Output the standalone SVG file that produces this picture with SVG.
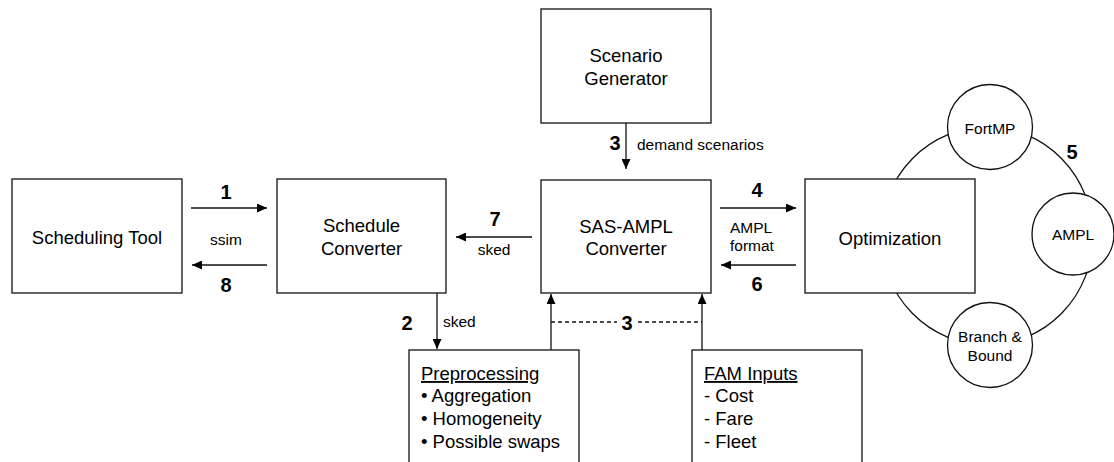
<svg xmlns="http://www.w3.org/2000/svg" width="1114" height="462" viewBox="0 0 1114 462">
<style>
text{font-family:"Liberation Sans",Arial,sans-serif;fill:#000}
.box{fill:#fff;stroke:#111;stroke-width:1.3}
.big{font-size:18.5px}
.sm{font-size:15.5px}
.num{font-size:20px;font-weight:bold}
.ln{stroke:#111;stroke-width:1.3;fill:none}
</style>
<defs>
<marker id="ah" markerUnits="userSpaceOnUse" markerWidth="11" markerHeight="9" refX="10" refY="4.5" orient="auto">
<path d="M0,0 L10,4.5 L0,9 Z" fill="#000"/>
</marker>
</defs>
<g id="solver-ring">
<ellipse cx="987" cy="236" rx="106" ry="109" class="ln"/>
</g>
<g id="scheduling-tool">
<rect x="12" y="179" width="170" height="114" class="box"/>
<text x="97" y="244" class="big" text-anchor="middle">Scheduling Tool</text>
</g>
<g id="schedule-converter">
<rect x="277" y="179" width="169" height="114" class="box"/>
<text x="361.5" y="232" class="big" text-anchor="middle">Schedule</text>
<text x="361.5" y="255" class="big" text-anchor="middle">Converter</text>
</g>
<g id="scenario-generator">
<rect x="541" y="9" width="170" height="114" class="box"/>
<text x="626" y="62" class="big" text-anchor="middle">Scenario</text>
<text x="626" y="85" class="big" text-anchor="middle">Generator</text>
</g>
<g id="sas-ampl-converter">
<rect x="541" y="180" width="170" height="113" class="box"/>
<text x="626" y="233" class="big" text-anchor="middle">SAS-AMPL</text>
<text x="626" y="255" class="big" text-anchor="middle">Converter</text>
</g>
<g id="optimization">
<rect x="805" y="179" width="170" height="114" class="box"/>
<text x="890" y="245" class="big" text-anchor="middle">Optimization</text>
</g>
<g id="fortmp">
<circle cx="990" cy="127" r="42.5" class="box"/>
<text x="990" y="134" class="sm" text-anchor="middle">FortMP</text>
</g>
<g id="ampl">
<circle cx="1073" cy="234" r="41" class="box"/>
<text x="1073" y="240" class="sm" text-anchor="middle">AMPL</text>
</g>
<g id="branch-bound">
<circle cx="990" cy="345" r="42.5" class="box"/>
<text x="990" y="342" class="sm" text-anchor="middle">Branch &amp;</text>
<text x="990" y="361" class="sm" text-anchor="middle">Bound</text>
</g>
<g id="preprocessing">
<rect x="409" y="350" width="170" height="130" class="box"/>
<text x="421" y="380" class="big" text-decoration="underline">Preprocessing</text>
<text x="421" y="402" class="big">• Aggregation</text>
<text x="421" y="425" class="big">• Homogeneity</text>
<text x="421" y="448" class="big">• Possible swaps</text>
</g>
<g id="fam-inputs">
<rect x="692" y="350" width="170" height="130" class="box"/>
<text x="704" y="380" class="big" text-decoration="underline">FAM Inputs</text>
<text x="704" y="402" class="big">- Cost</text>
<text x="704" y="425" class="big">- Fare</text>
<text x="704" y="448" class="big">- Fleet</text>
</g>
<g id="connectors">
<line x1="191" y1="208" x2="267" y2="208" class="ln" marker-end="url(#ah)"/>
<line x1="267" y1="265" x2="192" y2="265" class="ln" marker-end="url(#ah)"/>
<line x1="532" y1="237" x2="456" y2="237" class="ln" marker-end="url(#ah)"/>
<line x1="720" y1="208" x2="796" y2="208" class="ln" marker-end="url(#ah)"/>
<line x1="796" y1="265" x2="721" y2="265" class="ln" marker-end="url(#ah)"/>
<line x1="626" y1="123" x2="626" y2="169" class="ln" marker-end="url(#ah)"/>
<line x1="437" y1="293" x2="437" y2="349" class="ln" marker-end="url(#ah)"/>
<line x1="551" y1="350" x2="551" y2="294" class="ln" marker-end="url(#ah)"/>
<line x1="702" y1="350" x2="702" y2="294" class="ln" marker-end="url(#ah)"/>
<line x1="551" y1="322" x2="617" y2="322" class="ln" stroke-dasharray="4,3" stroke-width="1"/>
<line x1="638" y1="322" x2="702" y2="322" class="ln" stroke-dasharray="4,3" stroke-width="1"/>
<text x="226" y="199" class="num" text-anchor="middle">1</text>
<text x="226" y="245" class="sm" text-anchor="middle">ssim</text>
<text x="226" y="292" class="num" text-anchor="middle">8</text>
<text x="495" y="226" class="num" text-anchor="middle">7</text>
<text x="494" y="255" class="sm" text-anchor="middle">sked</text>
<text x="615" y="150" class="num" text-anchor="middle">3</text>
<text x="637" y="150" class="sm">demand scenarios</text>
<text x="757" y="197" class="num" text-anchor="middle">4</text>
<text x="730" y="233" class="sm">AMPL</text>
<text x="730" y="251" class="sm">format</text>
<text x="757" y="291" class="num" text-anchor="middle">6</text>
<text x="407" y="330" class="num" text-anchor="middle">2</text>
<text x="443" y="327" class="sm">sked</text>
<text x="627" y="330" class="num" text-anchor="middle">3</text>
<text x="1072" y="159" class="num" text-anchor="middle">5</text>
</g>
</svg>
